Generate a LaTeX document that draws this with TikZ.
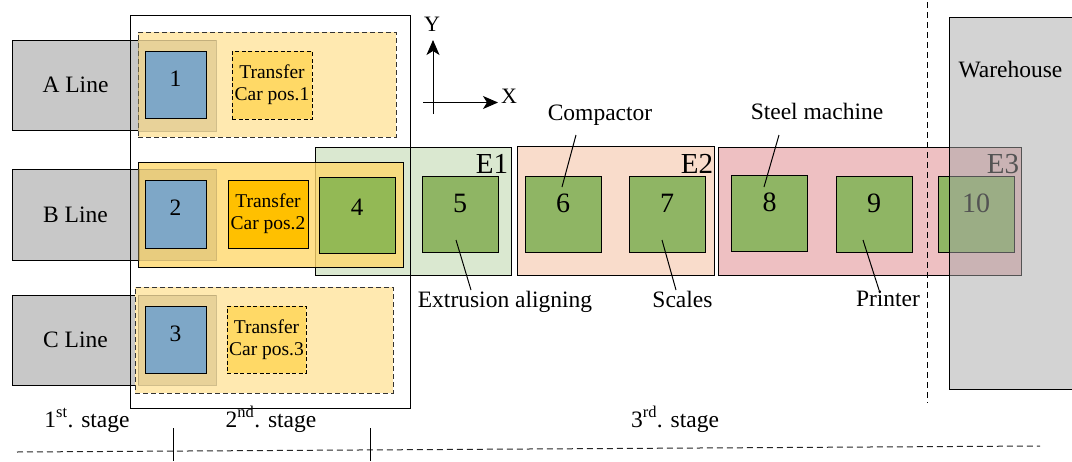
\documentclass[tikz,border=0pt]{standalone}
\usepackage{fontspec}
\setmainfont{Liberation Serif}
\usetikzlibrary{arrows.meta}
\definecolor{lineg}{RGB}{200,200,200}
\definecolor{yelA}{RGB}{255,233,176}
\definecolor{yelB}{RGB}{255,216,109}
\definecolor{tanc}{RGB}{180,160,100}
\definecolor{bluec}{RGB}{126,167,199}
\definecolor{tcA}{RGB}{255,217,102}
\definecolor{tcB}{RGB}{255,192,0}
\definecolor{grn}{RGB}{143,181,100}
\definecolor{grnfour}{RGB}{147,185,85}
\definecolor{eone}{RGB}{218,232,208}
\definecolor{etwo}{RGB}{249,220,203}
\definecolor{ethree}{RGB}{238,192,194}
\definecolor{whs}{RGB}{167,167,167}
\begin{document}
\begin{tikzpicture}[x=1pt,y=-1pt,
  every node/.style={inner sep=0pt, outer sep=0pt, font=\fontsize{23.5}{26}\selectfont},
  linebox/.style={draw, line width=1pt, fill=lineg},
  regdash/.style={draw=black!80, line width=1pt, dash pattern=on 5pt off 3pt},
  region/.style={draw, line width=1pt},
  tanbox/.style={fill=tanc, fill opacity=0.3, draw=tanc!70!black, draw opacity=0.35, line width=1pt},
  numsmall/.style={draw, line width=1pt, text depth=12pt, font=\fontsize{23.5}{26}\selectfont},
  nummid/.style={draw, line width=1pt, text depth=16pt, font=\fontsize{25}{28}\selectfont},
  numbig/.style={draw, line width=1pt, fill=grn, minimum width=76pt, minimum height=76pt, text depth=22pt, font=\fontsize{28}{30}\selectfont},
  tcbox/.style={line width=1pt, align=center, font=\fontsize{19.5}{22}\selectfont},
  elbl/.style={font=\fontsize{29}{31}\selectfont, anchor=north east},
  annot/.style={anchor=base},
  pointer/.style={line width=1pt},
  ddash/.style={line width=1pt, dash pattern=on 6pt off 4pt}
]
\useasboundingbox (0,0) rectangle (1072,461);
\clip (0,0) rectangle (1072,461);

% line boxes
\node[linebox, minimum width=127pt, minimum height=90pt] (lineA) at (75.5,85) {A Line};
\node[linebox, minimum width=127pt, minimum height=91pt] (lineB) at (75.5,214.5) {B Line};
\node[linebox, minimum width=127pt, minimum height=90pt] (lineC) at (75.5,340) {C Line};

% stage regions
\node[regdash, fill=yelA, minimum width=258pt, minimum height=105pt] (regA) at (267,84.5) {};
\node[regdash, fill=yelA, minimum width=258pt, minimum height=106pt] (regC) at (264,340) {};
\node[region, fill=eone, minimum width=196pt, minimum height=128pt] (E1) at (413,211) {};
\node[region, fill=yelB, fill opacity=0.8, minimum width=265pt, minimum height=105pt] (regB) at (270.5,214.5) {};

% tan overlays
\node[tanbox, minimum width=78pt, minimum height=91pt] (tanA) at (177,85.5) {};
\node[tanbox, minimum width=78pt, minimum height=91pt] (tanB) at (177,214.5) {};
\node[tanbox, minimum width=78pt, minimum height=90pt] (tanC) at (177,340) {};

% stations 1-3
\node[numsmall, fill=bluec, minimum width=61pt, minimum height=67pt] (b1) at (175.5,84.5) {1};
\node[numsmall, fill=bluec, minimum width=61pt, minimum height=68pt] (b2) at (175.5,214) {2};
\node[numsmall, fill=bluec, minimum width=61pt, minimum height=67pt] (b3) at (175.5,339.5) {3};

% transfer cars
\node[tcbox, draw, dash pattern=on 4pt off 2.5pt, fill=tcA, minimum width=80pt, minimum height=68pt] (tc1) at (272,85) {Transfer\\Car pos.1};
\node[tcbox, draw, fill=tcB, minimum width=80pt, minimum height=68pt] (tc2) at (268,214) {Transfer\\Car pos.2};
\node[tcbox, draw, dash pattern=on 4pt off 2.5pt, fill=tcA, minimum width=79pt, minimum height=67pt] (tc3) at (266.5,339.5) {Transfer\\Car pos.3};

% station 4
\node[nummid, fill=grnfour, minimum width=76pt, minimum height=76pt] (b4) at (357,215) {4};

% E1..E3
\node[numbig] (b5) at (460,214) {5};
\node[elbl] (e1l) at (508,154) {E1};
\node[region, fill=etwo, minimum width=197pt, minimum height=129pt] (E2) at (615.5,210.5) {};
\node[numbig] (b6) at (563,214) {6};
\node[numbig] (b7) at (667,214) {7};
\node[elbl] (e2l) at (713,154) {E2};
\node[region, fill=ethree, minimum width=303pt, minimum height=128pt] (E3) at (869.5,211) {};
\node[numbig] (b8) at (769.5,213.5) {8};
\node[numbig] (b9) at (874,214) {9};
\node[numbig] (b10) at (976,214) {10};
\node[elbl] (e3l) at (1019,154) {E3};

% warehouse
\node[draw, line width=1pt, fill=whs, fill opacity=0.5, minimum width=131pt, minimum height=372pt] (wh) at (1014.5,203) {};
\node[annot] (whl) at (1010.5,77.7) {Warehouse};

% big frame of stages 1-2
\node[draw, line width=1pt, minimum width=280pt, minimum height=393pt] (frame) at (270,211.5) {};

% axes
\coordinate (yb) at (433,114);
\coordinate (yt) at (433,40);
\coordinate (xb) at (423,102.5);
\coordinate (xt) at (498,102.5);
\draw[line width=1pt, -{Stealth[length=15pt,width=13pt,inset=4pt]}] (yb) -- (yt);
\draw[line width=1pt, -{Stealth[length=15pt,width=13pt,inset=4pt]}] (xb) -- (xt);
\node[annot, font=\fontsize{22}{24}\selectfont] (ylbl) at (432,31) {Y};
\node[annot, font=\fontsize{22}{24}\selectfont] (xlbl) at (509,103) {X};

% annotations
\node[annot] (cmp) at (600,120) {Compactor};
\node[annot] (ext) at (505,307) {Extrusion aligning};
\node[annot] (scl) at (682.5,307) {Scales};
\node[annot] (stl) at (817,119) {Steel machine};
\node[annot] (prn) at (888,306.7) {Printer};
\coordinate (cmpa) at (576,135); \coordinate (cmpb) at (562,187);
\coordinate (exta) at (456,240); \coordinate (extb) at (471,290);
\coordinate (scla) at (662,240); \coordinate (sclb) at (676,290);
\coordinate (stla) at (779,135); \coordinate (stlb) at (764,187);
\coordinate (prna) at (863,240); \coordinate (prnb) at (880,293);
\draw[pointer] (cmpa) -- (cmpb);
\draw[pointer] (exta) -- (extb);
\draw[pointer] (scla) -- (sclb);
\draw[pointer] (stla) -- (stlb);
\draw[pointer] (prna) -- (prnb);

% dashed separators
\coordinate (vda) at (927,2); \coordinate (vdb) at (927,403);
\draw[ddash] (vda) -- (vdb);
\coordinate (hda) at (17,452); \coordinate (hdb) at (1040,446);
\draw[ddash, black!85] (hda) -- (hdb);
\coordinate (t1a) at (173,428); \coordinate (t1b) at (173,461);
\coordinate (t2a) at (370,428); \coordinate (t2b) at (370,461);
\draw[line width=1pt] (t1a) -- (t1b);
\draw[line width=1pt] (t2a) -- (t2b);

% stage labels
\node[annot] (s1) at (87,427) {1\textsuperscript{st}. stage};
\node[annot] (s2) at (271,427) {2\textsuperscript{nd}. stage};
\node[annot] (s3) at (675,427) {3\textsuperscript{rd}. stage};
\end{tikzpicture}
\end{document}
